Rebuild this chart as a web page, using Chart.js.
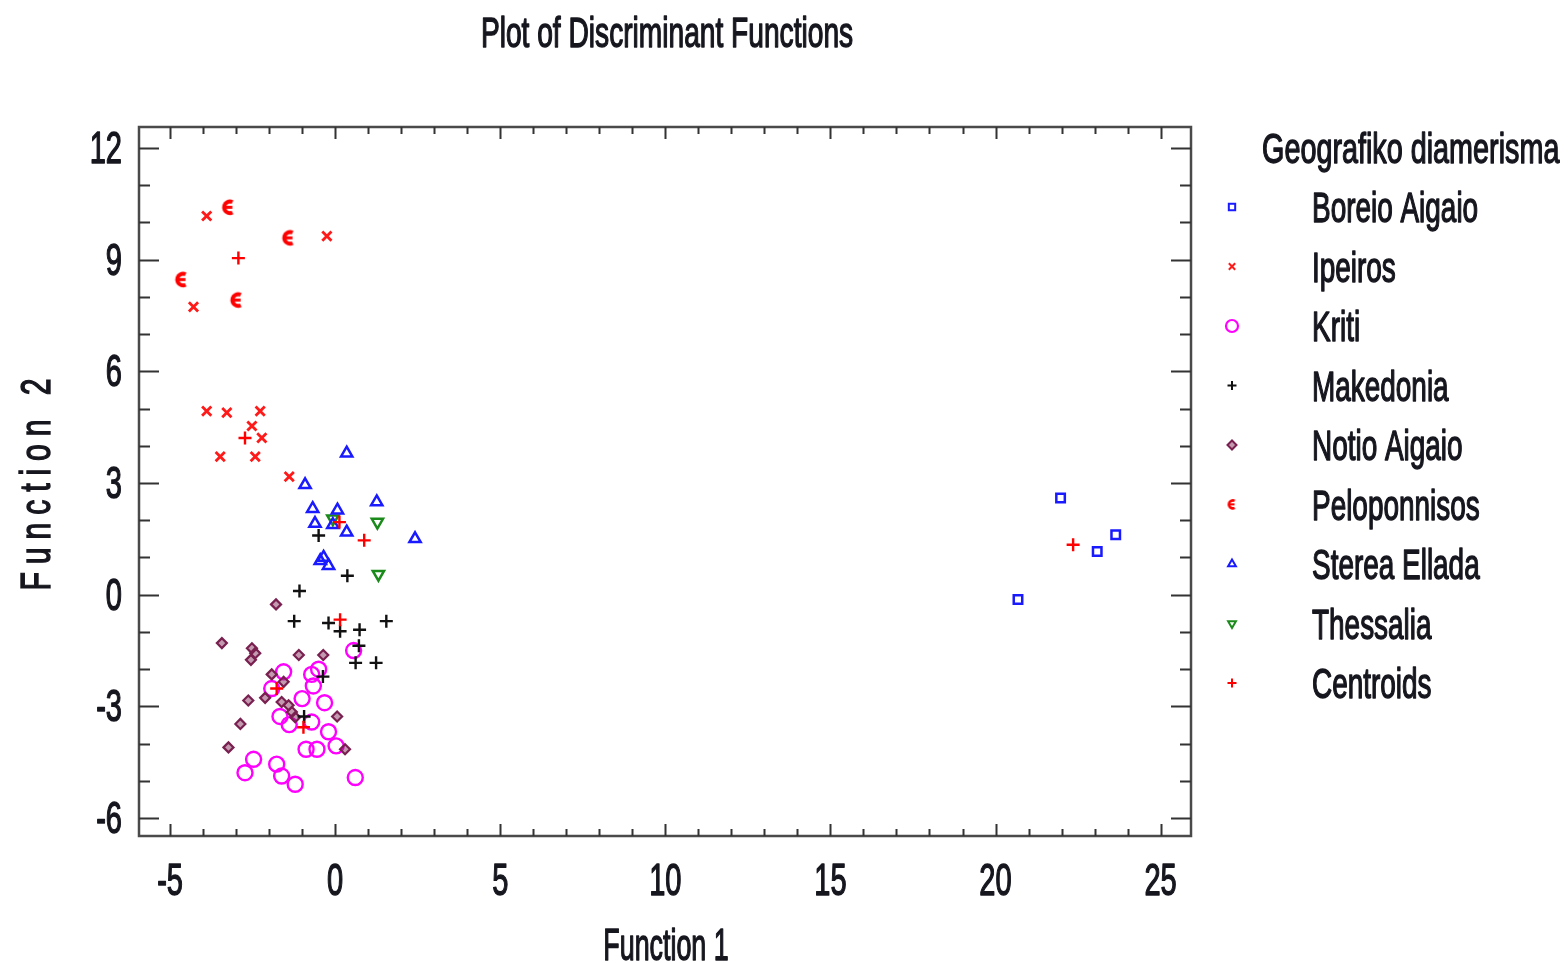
<!DOCTYPE html>
<html>
<head>
<meta charset="utf-8">
<script src="https://cdn.jsdelivr.net/npm/chart.js@4.4.1/dist/chart.umd.min.js"></script>
<style>
  html, body { margin: 0; padding: 0; background: #ffffff; }
  #wrap { width: 1568px; height: 963px; position: relative; }
</style>
</head>
<body>
<div id="wrap"><canvas id="c" width="1568" height="963"></canvas></div>
<script>
// ---------------- DATA ----------------
const chartTitle = 'Plot of Discriminant Functions';
const xAxisTitle = 'Function 1';
const yAxisTitle = 'Function 2';
const legendTitle = 'Geografiko diamerisma';

const xTickLabels = ['-5', '0', '5', '10', '15', '20', '25'];
const yTickLabels = ['12', '9', '6', '3', '0', '-3', '-6'];

const seriesNames = ['Boreio Aigaio', 'Ipeiros', 'Kriti', 'Makedonia', 'Notio Aigaio',
                     'Peloponnisos', 'Sterea Ellada', 'Thessalia', 'Centroids'];

const boreioAigaio = [[21.97, 2.60], [23.64, 1.61], [23.08, 1.16], [20.68, -0.13]];

const ipeiros = [[-3.89, 10.17], [-0.25, 9.63], [-4.29, 7.73], [-3.89, 4.93], [-3.28, 4.89],
                 [-2.27, 4.93], [-2.52, 4.53], [-2.22, 4.21], [-3.48, 3.71], [-2.42, 3.71],
                 [-1.39, 3.17]];

const kriti = [[0.56, -1.50], [-1.56, -2.07], [-0.71, -2.14], [-0.50, -2.00], [-0.66, -2.45],
               [-1.92, -2.52], [-1.00, -2.79], [-0.32, -2.90], [-1.67, -3.27], [-1.39, -3.49],
               [-0.71, -3.42], [-0.20, -3.68], [0.03, -4.06], [-0.88, -4.15], [-0.55, -4.15],
               [-2.47, -4.42], [-2.73, -4.78], [-1.77, -4.55], [-1.62, -4.87], [-1.21, -5.09],
               [0.61, -4.91]];

const makedonia = [[-0.50, 1.59], [0.37, 0.51], [-1.08, 0.10], [-1.24, -0.71], [-0.20, -0.76],
                   [0.15, -0.98], [0.74, -0.94], [1.55, -0.71], [0.72, -1.37], [0.62, -1.83],
                   [1.24, -1.83], [-0.37, -2.20], [-0.94, -3.27]];

const notioAigaio = [[-1.79, -0.26], [-3.43, -1.30], [-2.52, -1.44], [-2.42, -1.57], [-2.55, -1.75],
                     [-1.10, -1.62], [-0.36, -1.62], [-1.92, -2.14], [-1.56, -2.34], [-2.63, -2.84],
                     [-2.12, -2.77], [-1.62, -2.88], [-1.41, -2.97], [-1.31, -3.15], [-1.21, -3.29],
                     [0.06, -3.27], [-2.87, -3.47], [0.30, -4.15], [-3.23, -4.10]];

const peloponnisos = [[-3.23, 10.40], [-1.41, 9.58], [-4.65, 8.46], [-2.98, 7.91]];

const stereaEllada = [[0.35, 3.80], [-0.91, 2.95], [-0.68, 2.31], [-0.61, 1.91], [0.07, 2.27],
                      [-0.07, 1.88], [0.35, 1.68], [1.26, 2.49], [2.42, 1.50], [-0.45, 0.91],
                      [-0.20, 0.78], [-0.35, 1.00]];

const thessalia = [[-0.07, 2.04], [1.28, 1.95], [1.31, 0.55]];

const centroids = [[-2.93, 9.04], [-2.73, 4.21], [0.13, 1.95], [0.88, 1.46], [0.15, -0.67],
                   [-1.77, -2.52], [-0.96, -3.56], [22.35, 1.34]];

// ---------------- STYLE HELPERS ----------------
const FONT = '"Liberation Sans", Arial, "DejaVu Sans", sans-serif';
const TEXT_COLOR = '#16161f';

function makePelo(scale) {
  const c = document.createElement('canvas');
  c.width = Math.round(13 * scale); c.height = Math.round(15 * scale);
  const g = c.getContext('2d');
  g.scale(scale, scale);
  g.strokeStyle = '#ff0000';
  g.fillStyle = '#ff0000';
  g.lineWidth = 3.2;
  g.beginPath();
  g.arc(7.5, 7.5, 4.6, Math.PI * 0.35, Math.PI * 1.65);
  g.stroke();
  g.fillRect(3, 6.3, 6.5, 2.4);
  return c;
}
const peloImg = makePelo(1.25);
const peloImgSmall = makePelo(0.85);

function toPts(arr) { return arr.map(p => ({ x: p[0], y: p[1] })); }

const seriesData = [boreioAigaio, ipeiros, kriti, makedonia, notioAigaio,
                    peloponnisos, stereaEllada, thessalia, centroids];

const styles = [
  { pointStyle: 'rect', radius: 6, borderColor: '#1a1aff', bg: 'rgba(0,0,0,0)', bw: 2.5, rot: 0 },
  { pointStyle: 'crossRot', radius: 6.5, borderColor: '#ff1a1a', bg: 'rgba(0,0,0,0)', bw: 2.8, rot: 0 },
  { pointStyle: 'circle', radius: 7.5, borderColor: '#ff00ff', bg: 'rgba(0,0,0,0)', bw: 2.4, rot: 0 },
  { pointStyle: 'cross', radius: 6.5, borderColor: '#111111', bg: 'rgba(0,0,0,0)', bw: 2.4, rot: 0 },
  { pointStyle: 'rectRot', radius: 5, borderColor: '#7a2050', bg: 'rgba(122,32,80,0.45)', bw: 2.2, rot: 0 },
  { pointStyle: peloImg, radius: 7, borderColor: '#ff0000', bg: '#ff0000', bw: 1, rot: 0 },
  { pointStyle: 'triangle', radius: 6.5, borderColor: '#1a1aff', bg: 'rgba(0,0,0,0)', bw: 2.5, rot: 0 },
  { pointStyle: 'triangle', radius: 6.5, borderColor: '#1a8a1a', bg: 'rgba(0,0,0,0)', bw: 2.5, rot: 180 },
  { pointStyle: 'cross', radius: 6.5, borderColor: '#ff0000', bg: 'rgba(0,0,0,0)', bw: 2.4, rot: 0 }
];
const legendStyles = styles.map((s, i) => Object.assign({}, s, {
  radius: i === 2 ? 6 : 4.5,
  bw: i === 2 ? 2.2 : 2,
  pointStyle: i === 5 ? peloImgSmall : s.pointStyle
}));

const datasets = seriesNames.map((name, i) => ({
  label: name,
  data: toPts(seriesData[i]),
  pointStyle: styles[i].pointStyle,
  pointRadius: styles[i].radius,
  pointBorderColor: styles[i].borderColor,
  pointBackgroundColor: styles[i].bg,
  pointBorderWidth: styles[i].bw,
  pointRotation: styles[i].rot,
  showLine: false,
  order: i === 8 ? 0 : (i === 2 ? 3 : (i === 4 ? 2 : 1))
}));

function drawText(ctx, s, x, y, size, align, sx) {
  ctx.save();
  ctx.font = size + 'px ' + FONT;
  ctx.fillStyle = TEXT_COLOR;
  ctx.strokeStyle = TEXT_COLOR;
  ctx.lineWidth = 1.4;
  ctx.lineJoin = 'round';
  const w = ctx.measureText(s).width * sx;
  const x0 = align === 'center' ? x - w / 2 : (align === 'right' ? x - w : x);
  ctx.translate(x0, y);
  ctx.scale(sx, 1);
  ctx.textAlign = 'left';
  ctx.textBaseline = 'alphabetic';
  ctx.fillText(s, 0, 0);
  ctx.strokeText(s, 0, 0);
  ctx.restore();
}

// ---------------- PLUGIN: frame, ticks, texts, legend ----------------
const decor = {
  id: 'decor',
  afterDraw(chart) {
    const ctx = chart.ctx;
    const a = chart.chartArea;
    const xs = chart.scales.x, ys = chart.scales.y;

    // frame
    ctx.save();
    ctx.strokeStyle = '#4a4a4a';
    ctx.lineWidth = 2.5;
    ctx.strokeRect(a.left, a.top, a.right - a.left, a.bottom - a.top);

    // ticks (inward, all four sides)
    ctx.strokeStyle = '#333333';
    ctx.lineWidth = 2;
    const majX = xTickLabels.map(Number);
    for (let v = Math.ceil(xs.min); v <= Math.floor(xs.max); v++) {
      const px = Math.round(xs.getPixelForValue(v)) + 0.5;
      const len = majX.includes(v) ? 12 : 7;
      ctx.beginPath();
      ctx.moveTo(px, a.bottom); ctx.lineTo(px, a.bottom - len);
      ctx.moveTo(px, a.top); ctx.lineTo(px, a.top + len);
      ctx.stroke();
    }
    const majY = yTickLabels.map(Number);
    for (let v = Math.ceil(ys.min); v <= Math.floor(ys.max); v++) {
      const py = Math.round(ys.getPixelForValue(v)) + 0.5;
      const len = majY.includes(v) ? 20 : 11;
      ctx.beginPath();
      ctx.moveTo(a.left, py); ctx.lineTo(a.left + len, py);
      ctx.moveTo(a.right, py); ctx.lineTo(a.right - len, py);
      ctx.stroke();
    }
    ctx.restore();

    // tick labels
    xTickLabels.forEach(l => {
      drawText(ctx, l, xs.getPixelForValue(Number(l)), a.bottom + 59, 44, 'center', 0.66);
    });
    yTickLabels.forEach(l => {
      drawText(ctx, l, a.left - 17, ys.getPixelForValue(Number(l)) + 15, 44, 'right', 0.66);
    });

    // title
    drawText(ctx, chartTitle, (a.left + a.right) / 2 + 2, 47, 42, 'center', 0.67);
    // x axis title
    drawText(ctx, xAxisTitle, (a.left + a.right) / 2 + 1, 960, 44, 'center', 0.61);

    // y axis title (rotated, spaced letters)
    ctx.save();
    ctx.translate(50, (a.top + a.bottom) / 2 + 3);
    ctx.rotate(-Math.PI / 2);
    ctx.font = '42px ' + FONT;
    ctx.fillStyle = TEXT_COLOR;
    ctx.strokeStyle = TEXT_COLOR;
    ctx.lineWidth = 1.4;
    ctx.textBaseline = 'alphabetic';
    const sc = 0.72, total = 212;
    const chars = yAxisTitle.split('');
    const widths = chars.map(ch => ctx.measureText(ch).width * sc);
    const sumW = widths.reduce((p, q) => p + q, 0);
    const gap = (total - sumW) / (chars.length - 1);
    let cx = -total / 2;
    chars.forEach((ch, i) => {
      ctx.save();
      ctx.translate(cx, 0);
      ctx.scale(sc, 1);
      ctx.fillText(ch, 0, 0);
      ctx.strokeText(ch, 0, 0);
      ctx.restore();
      cx += widths[i] + gap;
    });
    ctx.restore();

    // legend
    drawText(ctx, legendTitle, 1262, 163, 42, 'left', 0.685);
    const rowY0 = 207, rowStep = 59.5;
    seriesNames.forEach((name, i) => {
      const y = rowY0 + i * rowStep;
      const s = legendStyles[i];
      ctx.save();
      ctx.strokeStyle = s.borderColor;
      ctx.fillStyle = s.bg;
      ctx.lineWidth = s.bw;
      Chart.helpers.drawPoint(ctx, { pointStyle: s.pointStyle, radius: s.radius, rotation: s.rot, borderWidth: s.bw }, 1232, y);
      ctx.restore();
      drawText(ctx, name, 1312, y + 15, 42, 'left', 0.665);
    });
  }
};

new Chart(document.getElementById('c'), {
  type: 'scatter',
  data: { datasets },
  options: {
    responsive: false,
    animation: false,
    devicePixelRatio: 1,
    layout: { padding: { top: 127, right: 377, left: 0, bottom: 0 } },
    plugins: { legend: { display: false }, title: { display: false }, tooltip: { enabled: false } },
    scales: {
      x: {
        type: 'linear', min: -5.94, max: 25.92,
        ticks: { display: false, stepSize: 1 },
        grid: { display: false }, border: { display: false },
        afterFit(s) { s.height = 127; }
      },
      y: {
        type: 'linear', min: -6.48, max: 12.56,
        ticks: { display: false, stepSize: 1 },
        grid: { display: false }, border: { display: false },
        afterFit(s) { s.width = 139; }
      }
    }
  },
  plugins: [decor]
});
</script>
</body>
</html>
